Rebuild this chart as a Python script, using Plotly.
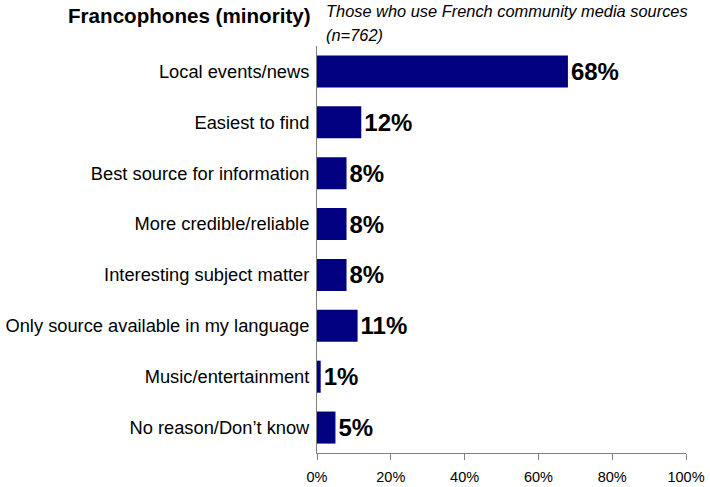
import plotly.graph_objects as go

# Reasons for using French community media sources (percent of respondents)
categories = [
    "Local events/news",
    "Easiest to find",
    "Best source for information",
    "More credible/reliable",
    "Interesting subject matter",
    "Only source available in my language",
    "Music/entertainment",
    "No reason/Don\u2019t know",
]
values = [68, 12, 8, 8, 8, 11, 1, 5]
x_ticks = [0, 20, 40, 60, 80, 100]
x_tick_labels = ["0%", "20%", "40%", "60%", "80%", "100%"]

title_text = "Francophones (minority)"
subtitle_lines = ["Those who use French community media sources", "(n=762)"]

NAVY = "#000080"
AXIS_GREY = "#7f7f7f"
FONT = "Liberation Sans, Arial, sans-serif"

W, H = 710, 487
M_L, M_R, M_T, M_B = 317, 24, 46, 34
PLOT_W = W - M_L - M_R
PLOT_H = H - M_T - M_B

fig = go.Figure(
    go.Bar(
        x=values,
        y=categories,
        orientation="h",
        marker=dict(color=NAVY, line=dict(width=0)),
        text=[f"{v}%" for v in values],
        textposition="outside",
        constraintext="none",
        textfont=dict(family=FONT, size=24, color="#000000", weight="bold"),
        cliponaxis=False,
        hoverinfo="skip",
    )
)

fig.update_layout(
    width=W,
    height=H,
    margin=dict(l=M_L, r=M_R, t=M_T, b=M_B, pad=0, autoexpand=False),
    paper_bgcolor="white",
    plot_bgcolor="white",
    bargap=0.37,
    showlegend=False,
)

fig.update_xaxes(
    range=[0, 100],
    tickvals=x_ticks,
    ticktext=x_tick_labels,
    showgrid=False,
    zeroline=False,
    showline=True,
    linecolor=AXIS_GREY,
    linewidth=1,
    ticks="outside",
    ticklen=6,
    tickcolor=AXIS_GREY,
    ticklabelstandoff=5,
    automargin=False,
    tickfont=dict(family=FONT, size=14.5, color="#000000"),
)

fig.update_yaxes(
    categoryorder="array",
    categoryarray=categories[::-1],
    autorange=False,
    range=[-0.5, len(categories) - 0.5],
    showgrid=False,
    zeroline=False,
    showline=True,
    linecolor=AXIS_GREY,
    linewidth=1,
    ticks="",
    ticklabelstandoff=3,
    automargin=False,
    tickfont=dict(family=FONT, size=18.3, color="#000000"),
)

# Heading on the left and sample description on the right
fig.add_annotation(
    text=title_text,
    xref="paper", yref="paper",
    x=(313 - M_L) / PLOT_W, y=1 + (M_T - 16) / PLOT_H,
    xanchor="right", yanchor="middle",
    showarrow=False,
    font=dict(family=FONT, size=20.6, color="#000000", weight="bold"),
)
for line, centre_y in zip(subtitle_lines, [11, 35]):
    fig.add_annotation(
        text=line,
        xref="paper", yref="paper",
        x=(324 - M_L) / PLOT_W, y=1 + (M_T - centre_y) / PLOT_H,
        xanchor="left", yanchor="middle",
        align="left",
        showarrow=False,
        font=dict(family=FONT, size=16.4, color="#000000", style="italic"),
    )

fig.write_html("out.html")
